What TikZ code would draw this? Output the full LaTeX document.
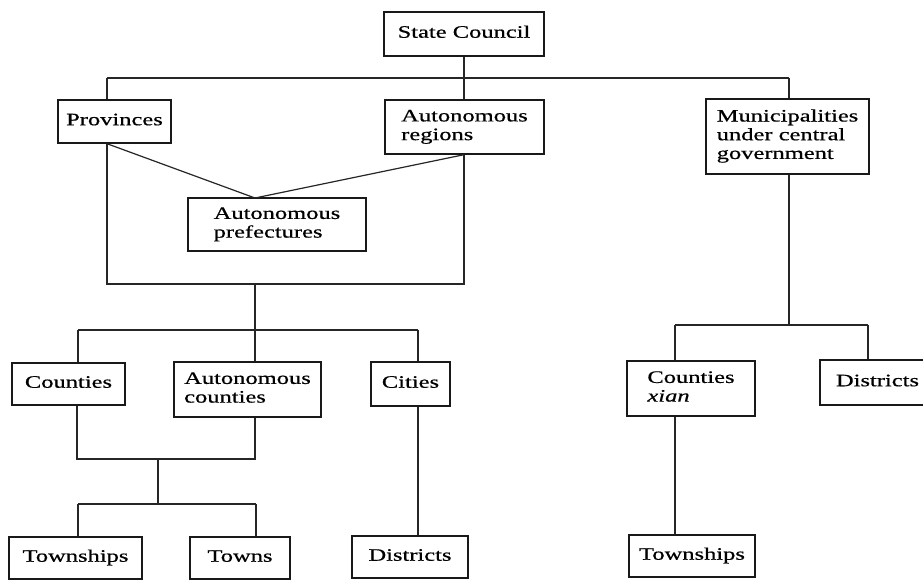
\documentclass[tikz,border=0pt]{standalone}
\usepackage{fontspec}
\setmainfont{Liberation Serif}
\newfontfamily\scanfont[FakeBold=0.5]{Liberation Serif}
\usepackage{graphicx}
\newcommand{\stx}[1]{\scalebox{1.4}[1]{\begin{tabular}{@{}l@{}}#1\end{tabular}}}
\tikzset{
  box/.style={draw=black!90, line width=1.4pt, inner sep=0pt, fill=white,
    font=\scanfont\fontsize{17.5}{18.7}\selectfont, anchor=center},
  conn/.style={draw=black!85, line width=1.2pt}
}
\begin{document}
\begin{tikzpicture}[x=1pt,y=-1pt]
\useasboundingbox[fill=white] (0,0) rectangle (923,580);
% boxes
\node[box, minimum width=160pt, minimum height=44pt] (sc) at (464,34) {\stx{State Council}};
\node[box, minimum width=113pt, minimum height=43pt] (prov) at (114.5,121.5) {\stx{Provinces}};
\node[box, minimum width=159pt, minimum height=54pt] (ar) at (464.5,127) {\stx{Autonomous\\regions}};
\node[box, minimum width=163pt, minimum height=75pt] (mun) at (787.5,136.5) {\stx{Municipalities\\under central\\government}};
\node[box, minimum width=178pt, minimum height=53pt] (ap) at (277,224.5) {\stx{Autonomous\\prefectures}};
\node[box, minimum width=113pt, minimum height=42pt] (cnt) at (68.5,384) {\stx{Counties}};
\node[box, minimum width=147pt, minimum height=55pt] (ac) at (247.5,389.5) {\stx{Autonomous\\counties}};
\node[box, minimum width=79pt, minimum height=44pt] (cit) at (410.5,384) {\stx{Cities}};
\node[box, minimum width=133pt, minimum height=42pt] (tws) at (75.5,558) {\stx{Townships}};
\node[box, minimum width=100pt, minimum height=42pt] (twn) at (240,558) {\stx{Towns}};
\node[box, minimum width=116pt, minimum height=42pt] (dl) at (410,557) {\stx{Districts}};
\node[box, minimum width=128pt, minimum height=55pt] (cx) at (691,388.5) {\stx{Counties\\\textit{xian}}};
\node[box, minimum width=115pt, minimum height=45pt] (dr) at (877.5,382.5) {\stx{Districts}};
\node[box, minimum width=126pt, minimum height=42pt] (twr) at (692,556) {\stx{Townships}};
% junction coordinates
\coordinate (busL) at (107,78);
\coordinate (busR) at (789,78);
\coordinate (apex) at (255,198);
\coordinate (brL) at (107,284);
\coordinate (brR) at (464,284);
\coordinate (brM) at (255,284);
\coordinate (b2M) at (255,330);
\coordinate (b2L) at (78,330);
\coordinate (b2R) at (418,330);
\coordinate (c3L) at (77,459);
\coordinate (c3R) at (255,459);
\coordinate (c3M) at (158,459);
\coordinate (b3M) at (158,504);
\coordinate (b3L) at (78,504);
\coordinate (b3R) at (256,504);
\coordinate (rM) at (789,325);
\coordinate (rL) at (675,325);
\coordinate (rR) at (868,325);
% connectors
\draw[conn] (busL) -- (busR);
\draw[conn] (sc.south) -- (sc.south |- ar.north);
\draw[conn] (busL) -- (busL |- prov.north);
\draw[conn] (busR) -- (busR |- mun.north);
\draw[conn] (prov.south -| busL) -- (apex);
\draw[conn] (ar.south -| brR) -- (apex);
\draw[conn] (prov.south -| brL) -- (brL) -- (brR) -- (ar.south -| brR);
\draw[conn] (brM) -- (b2M);
\draw[conn] (b2L) -- (b2R);
\draw[conn] (b2L) -- (b2L |- cnt.north);
\draw[conn] (b2M) -- (b2M |- ac.north);
\draw[conn] (b2R) -- (b2R |- cit.north);
\draw[conn] (cit.south -| b2R) -- (dl.north -| b2R);
\draw[conn] (cnt.south -| c3L) -- (c3L) -- (c3R) -- (ac.south -| c3R);
\draw[conn] (c3M) -- (b3M);
\draw[conn] (b3L) -- (b3R);
\draw[conn] (b3L) -- (b3L |- tws.north);
\draw[conn] (b3R) -- (b3R |- twn.north);
\draw[conn] (mun.south -| rM) -- (rM);
\draw[conn] (rL) -- (rR);
\draw[conn] (rL) -- (rL |- cx.north);
\draw[conn] (rR) -- (rR |- dr.north);
\draw[conn] (cx.south -| rL) -- (twr.north -| rL);
\end{tikzpicture}
\end{document}
